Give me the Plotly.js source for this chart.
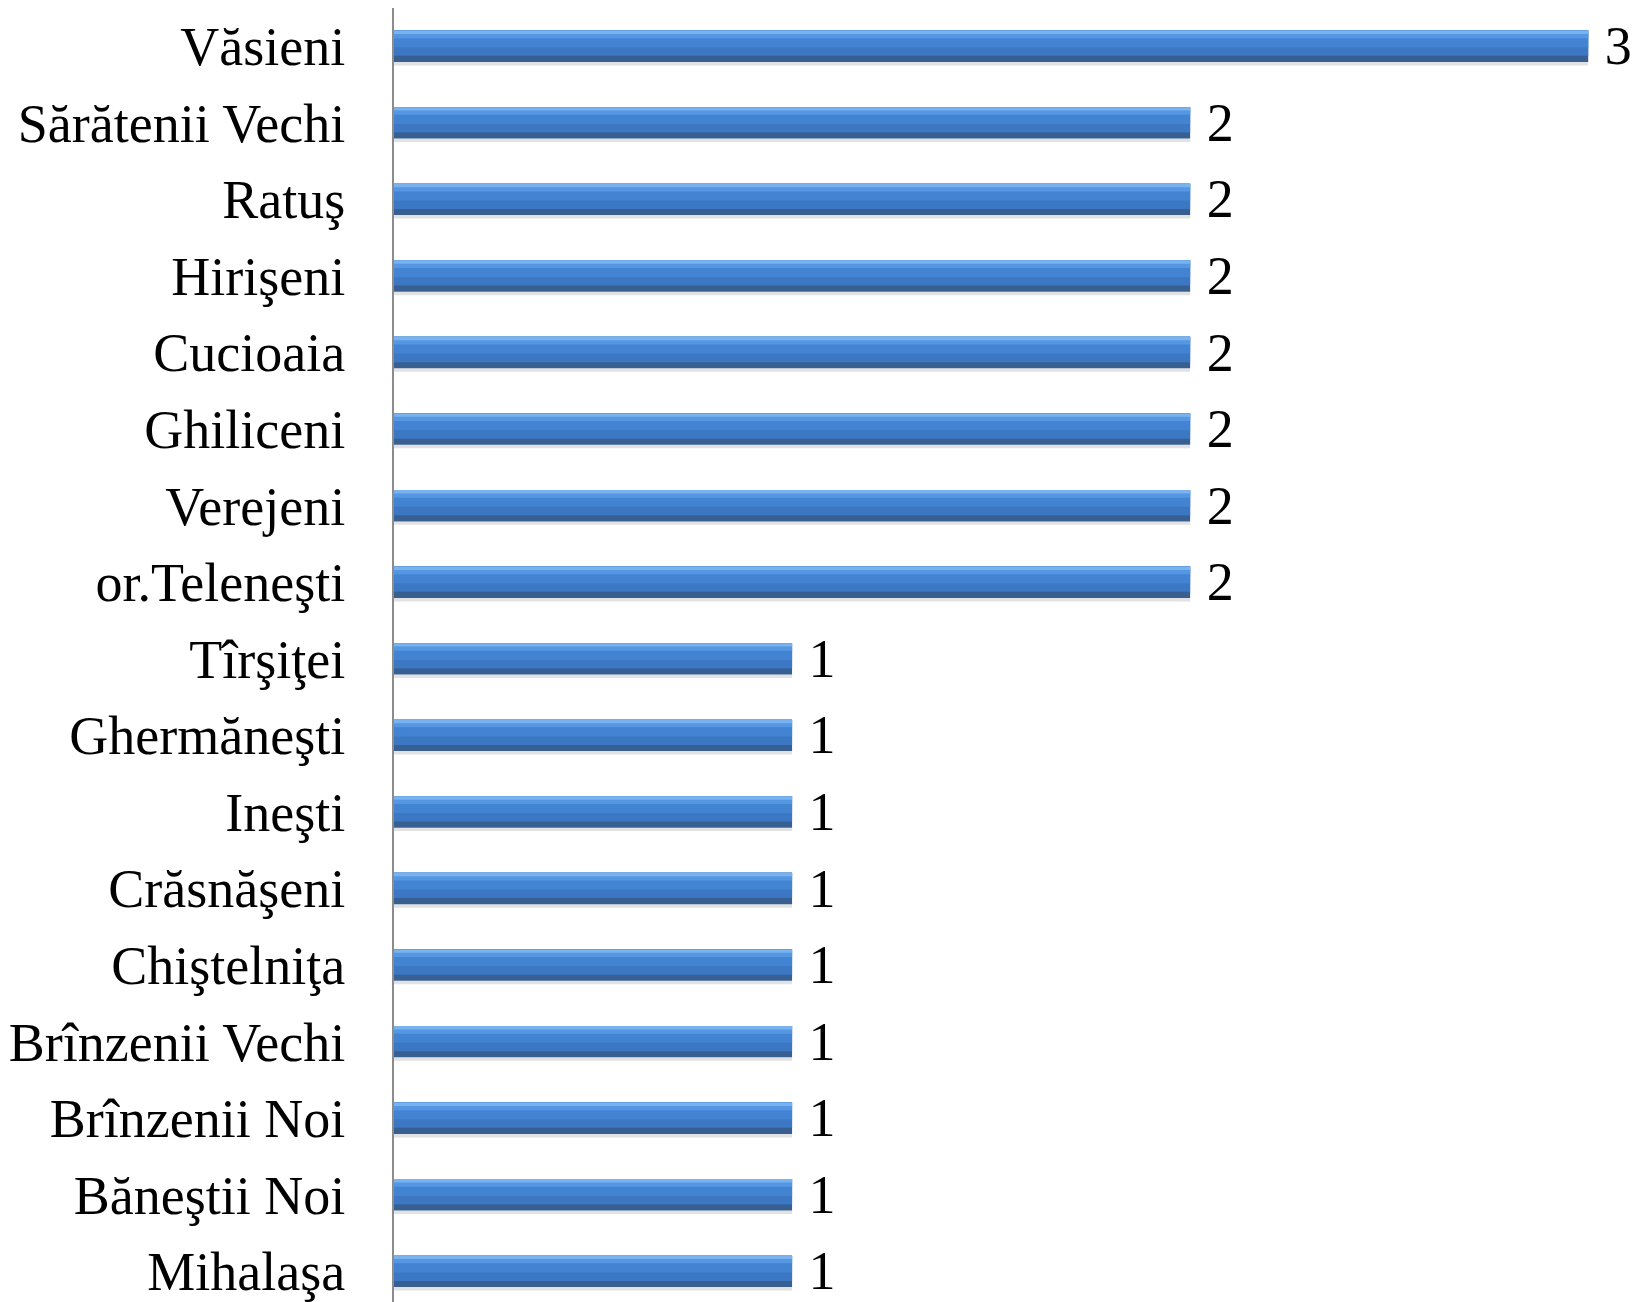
<!DOCTYPE html>
<html>
<head>
<meta charset="utf-8">
<script src="https://cdn.plot.ly/plotly-3.0.1.min.js"></script>
<style>html,body{margin:0;padding:0;background:#fff;}</style>
</head>
<body>
<div id="chart" style="width:1639px;height:1302px;"></div>
<script>
const localities = ["Văsieni","Sărătenii Vechi","Ratuş","Hirişeni","Cucioaia","Ghiliceni","Verejeni","or.Teleneşti","Tîrşiţei","Ghermăneşti","Ineşti","Crăsnăşeni","Chiştelniţa","Brînzenii Vechi","Brînzenii Noi","Băneştii Noi","Mihalaşa"];
const counts = [3,2,2,2,2,2,2,2,1,1,1,1,1,1,1,1,1];
const labels = counts.map(v => "\u00a0" + v);

const FONT = "Liberation Serif, Times New Roman, serif";
const base = {
  type: "bar", orientation: "h", x: counts, y: localities,
  hoverinfo: "skip", cliponaxis: false
};
function band(offset, width, color) {
  return Object.assign({}, base, {offset: offset, width: width, marker: {color: color, line: {width: 0}}});
}
const traces = [
  band(0.205, 0.045, "#e2e2e2"),
  Object.assign({}, base, {
    width: 0.41,
    marker: {color: "#385f92", line: {color: "#3a6394", width: 0}},
    text: labels, textposition: "outside", constraintext: "none",
    textfont: {family: FONT, size: 54, color: "#000"}
  }),
  band(-0.205, 0.33, "#3b77c2"),
  band(-0.205, 0.22, "#4283d2"),
  band(-0.205, 0.1, "#5597e2"),
  band(-0.205, 0.045, "#78b2ef")
];

const layout = {
  width: 1639, height: 1302,
  margin: {l: 394, r: 7, t: 8, b: 0},
  paper_bgcolor: "#fff", plot_bgcolor: "#fff",
  showlegend: false, barmode: "overlay",
  font: {family: FONT, color: "#000"},
  xaxis: {range: [0, 3.11], showgrid: false, zeroline: false, showline: false, showticklabels: false, ticks: ""},
  yaxis: {
    type: "category", range: [16.4, -0.5], showgrid: false, zeroline: false,
    showline: true, linecolor: "#8c8c8c", linewidth: 2,
    ticks: "outside", ticklen: 36, tickcolor: "rgba(0,0,0,0)",
    tickfont: {family: FONT, size: 54, color: "#000"}
  }
};
Plotly.newPlot("chart", traces, layout, {displayModeBar: false, staticPlot: true});
</script>
</body>
</html>
